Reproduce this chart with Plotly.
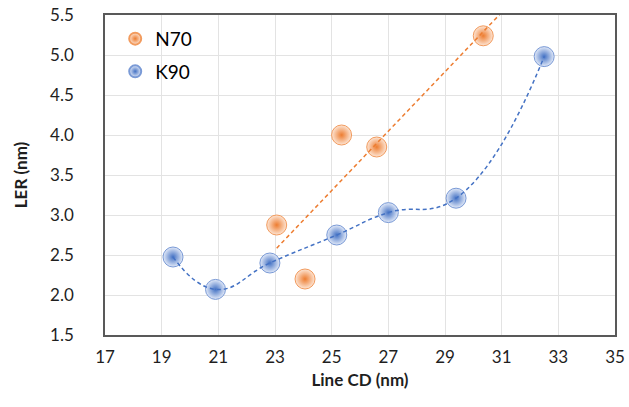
import numpy as np
import plotly.graph_objects as go

# Data
n70_cd = [23.06, 24.06, 25.35, 26.59, 30.35]
n70_ler = [2.875, 2.20, 4.00, 3.85, 5.24]

k90_cd = [19.4, 20.9, 22.82, 25.18, 27.0, 29.39, 32.5]
k90_ler = [2.475, 2.07, 2.40, 2.75, 3.03, 3.21, 4.98]

x_ticks = [17, 19, 21, 23, 25, 27, 29, 31, 33, 35]
y_ticks = [1.5, 2.0, 2.5, 3.0, 3.5, 4.0, 4.5, 5.0, 5.5]

ORANGE = "#ED7D31"
BLUE = "#4472C4"
FONT = "Lato"
TXT = "#1F1F1F"

# Linear trendline for N70 (least squares) with forward forecast
slope, intercept = np.polyfit(n70_cd, n70_ler, 1)
trend_x = np.linspace(min(n70_cd), max(n70_cd) + 1.5, 50)
trend_y = slope * trend_x + intercept

fig = go.Figure()

# Markers
fig.add_trace(go.Scatter(
    x=n70_cd, y=n70_ler, mode="markers", name="N70", legendgroup="a",
    marker=dict(size=20, color="#FDE6D6",
                gradient=dict(type="radial", color=ORANGE),
                line=dict(color="#F29B5E", width=1)),
))
fig.add_trace(go.Scatter(
    x=k90_cd, y=k90_ler, mode="markers", name="K90", legendgroup="b",
    marker=dict(size=20, color="#E3EAF8",
                gradient=dict(type="radial", color=BLUE),
                line=dict(color="#7A9AD6", width=1)),
))

# Trendlines (drawn above the markers, as in the reference)
fig.add_trace(go.Scatter(
    x=trend_x, y=trend_y, mode="lines",
    line=dict(color=ORANGE, width=1.5, dash="4px,3px"),
    showlegend=False, hoverinfo="skip",
))
fig.add_trace(go.Scatter(
    x=k90_cd, y=k90_ler, mode="lines",
    line=dict(color=BLUE, width=1.5, dash="4px,3px", shape="spline", smoothing=1.3),
    showlegend=False, hoverinfo="skip",
))

fig.update_layout(
    width=629, height=407,
    margin=dict(l=105, r=14, t=15, b=72),
    paper_bgcolor="white", plot_bgcolor="white",
    font=dict(family=FONT, color=TXT, size=16),
    legend=dict(x=0.02, y=0.985, xanchor="left", yanchor="top",
                font=dict(size=19, family=FONT, color="#000000"),
                bgcolor="rgba(0,0,0,0)", itemsizing="constant",
                tracegroupgap=5),
    xaxis=dict(
        range=[17, 35], tickvals=x_ticks, ticktext=[str(v) for v in x_ticks],
        showgrid=True, gridcolor="#E3E3E3", gridwidth=1,
        zeroline=False, showline=True, linecolor="#595959", linewidth=1.5,
        mirror=True, ticks="", ticklabelstandoff=6, automargin=False,
        ticklabeloverflow="allow",
        tickfont=dict(size=17, family=FONT, color=TXT),
        title=dict(text="<b>Line CD (nm)</b>", font=dict(size=17, family=FONT, color=TXT),
                   standoff=8),
    ),
    yaxis=dict(
        range=[1.5, 5.5], tickvals=y_ticks, ticktext=[f"{v:.1f}" for v in y_ticks],
        showgrid=True, gridcolor="#E3E3E3", gridwidth=1,
        zeroline=False, showline=True, linecolor="#595959", linewidth=1.5,
        mirror=True, ticks="", ticklabelstandoff=26, automargin=False,
        ticklabeloverflow="allow",
        tickfont=dict(size=17, family=FONT, color=TXT),
        title=dict(text="<b>LER (nm)</b>", font=dict(size=17, family=FONT, color=TXT),
                   standoff=18),
    ),
)

fig.write_html(
    "out.html",
    config={"displayModeBar": False},
    post_script="document.body.style.margin='0';document.body.style.overflow='hidden';",
)
